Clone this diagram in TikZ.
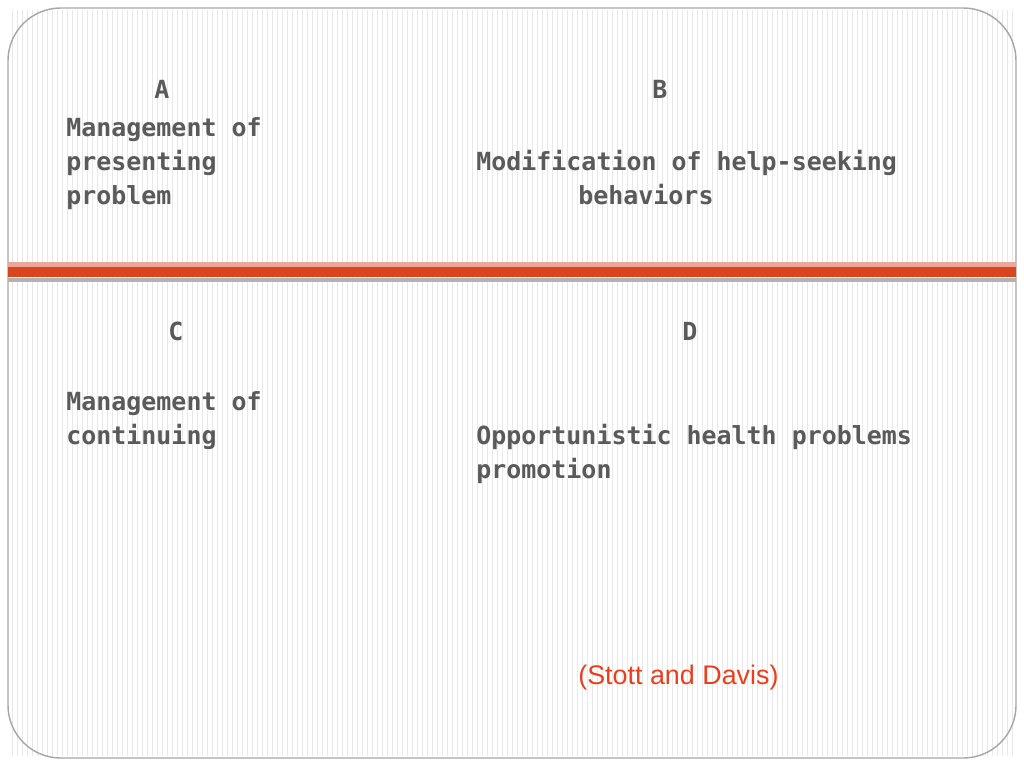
\documentclass[tikz,border=0pt]{standalone}
\usepackage{fontspec}
\setmainfont{DejaVu Sans Mono}
\newfontfamily\citefont{Liberation Sans}
\definecolor{SlideText}{HTML}{5A5A5A}
\definecolor{BandRed}{HTML}{D9461E}
\definecolor{BandPink}{HTML}{EBA898}
\definecolor{CiteRed}{HTML}{E8401C}
\tikzset{
	line/.style={anchor=base west, inner sep=0, text=SlideText, font=\bfseries\fontsize{14.2}{19}\selectfont},
	cite/.style={anchor=base west, inner sep=0, text=CiteRed, font=\citefont\fontsize{15.3}{18}\selectfont}
}
\begin{document}
\begin{tikzpicture}[x=0.02cm, y=-0.02cm]
		% Canvas
		\useasboundingbox (0,0) rectangle (1024,768);
		\fill[white] (0,0) rectangle (1024,768);
		
		% Stripes
		\foreach \x in {12,17,...,1012}
			\draw[gray!18, line width=0.4] (\x,10) -- (\x,756);
		
		% Border
		\draw[gray!70, line width=0.8, rounded corners=30] (8,8) rectangle (1016,758);
		
		% Band
		\fill[BandPink] (8,262) rectangle (1016,267);
		\fill[BandRed] (8,267) rectangle (1016,277);
		\fill[gray!60] (8,278) rectangle (1016,282);
		
		% Quadrant A
		\node[line] (a) at (154,98) {A};
		\node[line] (a1) at (66,136) {Management of};
		\node[line] (a2) at (66,170) {presenting};
		\node[line] (a3) at (66,204) {problem};
		
		% Quadrant B
		\node[line] (b) at (652,98) {B};
		\node[line] (b1) at (476,170) {Modification of help-seeking};
		\node[line] (b2) at (578,204) {behaviors};
		
		% Quadrant C
		\node[line] (c) at (168,340) {C};
		\node[line] (c1) at (66,410) {Management of};
		\node[line] (c2) at (66,444) {continuing};
		
		% Quadrant D
		\node[line] (d) at (682,340) {D};
		\node[line] (d1) at (476,444) {Opportunistic health problems};
		\node[line] (d2) at (476,478) {promotion};
		
		% Source
		\node[cite] (src) at (578,684) {(Stott and Davis)};
\end{tikzpicture}
\end{document}
